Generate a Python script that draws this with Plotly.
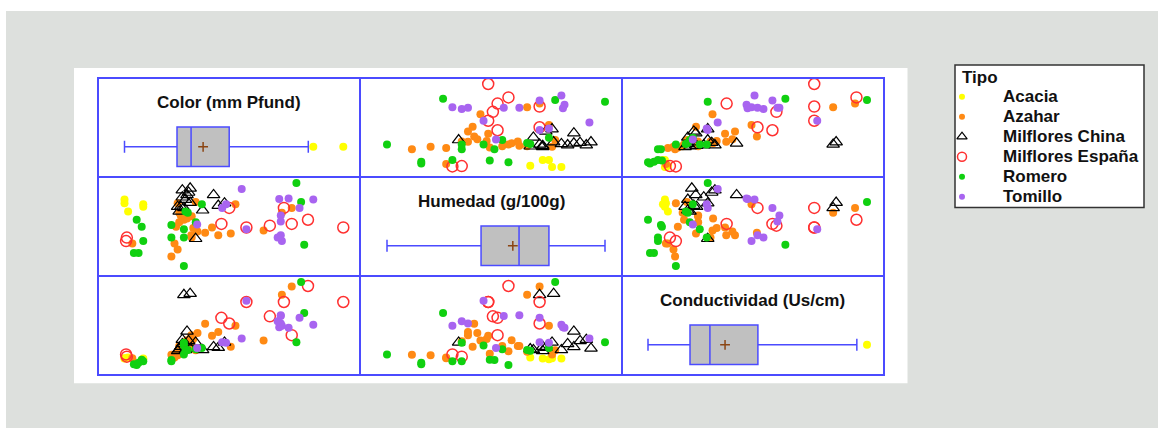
import plotly.graph_objects as go
from plotly.subplots import make_subplots

# ---- data: one entry per honey sample ----
tipos = ["Acacia", "Azahar", "Milflores China", "Milflores España", "Romero", "Tomillo"]

tipo = (["Acacia"] * 5 + ["Azahar"] * 25 + ["Milflores China"] * 16
        + ["Milflores España"] * 10 + ["Romero"] * 17 + ["Tomillo"] * 14)

color = [
    # Acacia
    10, 10, 12.3, 22, 22,
    # Azahar
    15, 40, 44, 52.7, 78, 56.7, 99, 110.7, 117, 81, 61.6, 45, 48, 50, 46, 55.5, 44, 45, 53, 53, 54, 66, 70, 43, 42,
    # Milflores China
    48, 52, 55.5, 52, 67, 47, 50, 44, 46, 74, 70, 60, 45, 49, 47, 51,
    # Milflores España
    11, 11.5, 77, 72, 88, 103, 112, 117, 127.4, 150,
    # Romero
    120, 123, 125, 17.8, 21, 22, 16, 19, 40, 40, 48, 48, 48, 59.5, 50.5, 55.6, 49,
    # Tomillo
    85, 109, 130.8, 122, 110, 110, 72.5, 56.5, 110.7, 110, 108, 88, 75, 115,
]

humedad = [
    19.6, 19.3, 18.6, 19.2, 19.0,
    15.9, 14.8, 15.4, 16.6, 16.75, 16.9, 17.0, 18.5, 18.9, 19.2, 16.8, 17.7, 17.9, 18.0, 18.25, 19.4, 19.3, 18.5,
    18.2, 16.4, 17.2, 17.25, 16.6, 17.3, 15.9,
    18.9, 19.35, 16.3, 20.55, 20.0, 20.4, 20.0, 19.0, 19.0, 19.3, 19.1, 18.7, 18.6, 19.6, 19.8, 20.2,
    16.1, 16.4, 18.9, 17.55, 17.25, 17.4, 18.9, 17.55, 17.9, 17.25,
    21.0, 19.4, 15.8, 17.9, 17.3, 16.1, 15.1, 15.1, 17.45, 16.4, 17.1, 16.4, 14.0, 19.2, 18.5, 17.7, 18.6,
    20.5, 19.65, 19.6, 18.9, 18.25, 17.75, 18.9, 17.5, 16.1, 16.6, 16.4, 17.1, 19.2, 19.7,
]

conductividad = [
    185, 190, 200, 175, 185,
    190, 236, 228, 493, 341, 524, 424, 1030, 1140, 620, 647, 352, 281, 427, 352, 295, 240, 274, 351, 414, 445,
    487, 537, 250, 200,
    1030, 1045, 400, 320, 340, 436, 545, 286, 344, 400, 330, 300, 311, 300, 380, 420,
    240, 210, 650, 725, 935, 745, 935, 495, 1147, 935,
    400, 1200, 790, 100, 170, 150, 110, 130, 165, 150, 360, 395, 240, 325, 300, 310, 290,
    450, 600, 635, 725, 760, 750, 400, 325, 620, 650, 680, 950, 395, 595,
]

variables = ["Color (mm Pfund)", "Humedad (g/100g)", "Conductividad (Us/cm)"]

# box-plot summaries (quartiles, whisker ends, mean) for each variable
box_low = [10, 14.0, 100]
box_q1 = [43.6, 17.02, 311]
box_median = [52.6, 18.24, 411]
box_q3 = [77.0, 19.2, 652]
box_high = [127.6, 21.0, 1149]
box_mean = [60.3, 18.04, 487]

# ---- layout geometry (pixels) ----
FONT = "Liberation Sans, Arial, sans-serif"
TEXT = "#111111"
FRAME = "#4b4bff"
W, H = 1158, 428
GRID_X = [98, 360, 622, 884]      # column edges
GRID_Y = [78, 177, 276, 375]      # row edges, top to bottom
LEG_BOX = (955, 65, 1144, 207.5)  # legend frame
LEG_ROWS = (86.7, 206.7)          # band holding the six legend rows
LEG_KEY_X, LEG_TEXT_X = 7, 46     # key symbol / label offsets inside the frame

x_ranges = [[-6.96, 160.69], [13.133, 21.546], [-30.6, 1285.4]]
y_ranges = [[-6.87, 160.12], [13.157, 21.506], [-32.5, 1279.5]]

styles = {
    "Acacia": dict(symbol="circle", size=8, color="#ffff00"),
    "Azahar": dict(symbol="circle", size=8, color="#ff8a14"),
    "Milflores China": dict(symbol="triangle-up-open", size=11, color="#000000", line=dict(width=1.2)),
    "Milflores España": dict(symbol="circle-open", size=11, color="#ff3030", line=dict(width=1.5)),
    "Romero": dict(symbol="circle", size=8, color="#10d010"),
    "Tomillo": dict(symbol="circle", size=8, color="#a864f0"),
}

columns = [color, humedad, conductividad]


def fx(p):
    return p / W


def fy(p):
    return (H - p) / H


def axis_name(letter, n):
    return letter if n == 1 else f"{letter}{n}"


fig = make_subplots(rows=3, cols=3, horizontal_spacing=0, vertical_spacing=0)

for i in range(3):          # row: variable on y
    for j in range(3):      # column: variable on x
        r, c = i + 1, j + 1
        n = 3 * i + j + 1
        if i == j:
            fig.add_trace(go.Box(
                y=[0.305], q1=[box_q1[j]], median=[box_median[j]], q3=[box_q3[j]],
                lowerfence=[box_low[j]], upperfence=[box_high[j]],
                orientation="h", width=0.4, whiskerwidth=0.3,
                fillcolor="#c0c0c0", line=dict(color=FRAME, width=1.5),
                boxpoints=False, hoverinfo="skip",
            ), row=r, col=c)
            fig.add_trace(go.Scatter(
                x=[box_mean[j]], y=[0.305], mode="markers",
                marker=dict(symbol="cross-thin", size=7, line=dict(color="#8b4513", width=1.5)),
                hoverinfo="skip",
            ), row=r, col=c)
            outliers = [v for v in columns[j] if v < box_low[j] or v > box_high[j]]
            if outliers:
                fig.add_trace(go.Scatter(
                    x=outliers, y=[0.305] * len(outliers), mode="markers",
                    marker=dict(symbol="circle", size=8, color="#ffff00"),
                    hoverinfo="skip",
                ), row=r, col=c)
            fig.add_annotation(
                text=variables[j], xref=axis_name("x", n) + " domain", yref=axis_name("y", n) + " domain",
                x=0.5, y=0.755, xanchor="center", yanchor="middle", showarrow=False,
                font=dict(family=FONT, size=17, color=TEXT, weight="bold"),
            )
            fig.update_yaxes(range=[0, 1], row=r, col=c)
        else:
            for t in tipos:
                idx = [k for k in range(len(tipo)) if tipo[k] == t]
                fig.add_trace(go.Scatter(
                    x=[columns[j][k] for k in idx], y=[columns[i][k] for k in idx],
                    mode="markers", name=t, marker=styles[t],
                ), row=r, col=c)
            fig.update_yaxes(range=y_ranges[i], row=r, col=c)
        fig.update_xaxes(range=x_ranges[j], domain=[fx(GRID_X[j]), fx(GRID_X[j + 1])], row=r, col=c)
        fig.update_yaxes(domain=[fy(GRID_Y[i + 1]), fy(GRID_Y[i])], row=r, col=c)
        # cell frame
        fig.add_shape(type="rect", xref=axis_name("x", n) + " domain", yref=axis_name("y", n) + " domain",
                      x0=0, x1=1, y0=0, y1=1, line=dict(color=FRAME, width=2), layer="above")

fig.update_xaxes(showticklabels=False, showgrid=False, zeroline=False, ticks="", showline=False)
fig.update_yaxes(showticklabels=False, showgrid=False, zeroline=False, ticks="", showline=False)

# ---- legend: key symbols on their own small axis, labels as text ----
lx0, ly0, lx1, ly1 = LEG_BOX
fig.update_layout(
    xaxis10=dict(domain=[fx(lx0), fx(lx1)], range=[0, lx1 - lx0], visible=False, fixedrange=True),
    yaxis10=dict(domain=[fy(LEG_ROWS[1]), fy(LEG_ROWS[0])], type="category",
                 categoryorder="array", categoryarray=tipos, range=[len(tipos) - 0.5, -0.5],
                 visible=False, fixedrange=True),
)
for t in tipos:
    key = dict(styles[t])
    key["size"] = styles[t]["size"] - 2
    fig.add_trace(go.Scatter(x=[LEG_KEY_X], y=[t], xaxis="x10", yaxis="y10", mode="markers",
                             marker=key, hoverinfo="skip", cliponaxis=False))
    fig.add_annotation(text=t, xref="x10", yref="y10", x=LEG_TEXT_X, y=t, xanchor="left", yanchor="middle",
                       showarrow=False, font=dict(family=FONT, size=17, color=TEXT, weight="bold"))
fig.add_annotation(text="Tipo", xref="paper", yref="paper", x=fx(lx0 + 5), y=fy(78), xanchor="left",
                   yanchor="middle", showarrow=False, font=dict(family=FONT, size=17, color=TEXT, weight="bold"))
fig.add_shape(type="rect", xref="paper", yref="paper", x0=fx(lx0), x1=fx(lx1), y0=fy(ly1), y1=fy(ly0),
              fillcolor="#ffffff", line=dict(color="#333333", width=1.5), layer="below")

# page background: light border strip, grey canvas, white chart panel
bands = [
    (0, 0, W, 11),
    (0, 0, 6, H),
    (74, 68, 907.5, 383.3),
]
for x0, y0, x1, y1 in bands:
    fig.add_shape(type="rect", xref="paper", yref="paper",
                  x0=fx(x0), x1=fx(x1), y0=fy(y1), y1=fy(y0),
                  fillcolor="#ffffff", line=dict(width=0), layer="below")

fig.update_layout(
    width=W, height=H, autosize=False,
    margin=dict(l=0, r=0, t=0, b=0),
    paper_bgcolor="#dde0dd", plot_bgcolor="rgba(0,0,0,0)",
    font=dict(family=FONT),
    showlegend=False,
)

fig.write_html("out.html")
